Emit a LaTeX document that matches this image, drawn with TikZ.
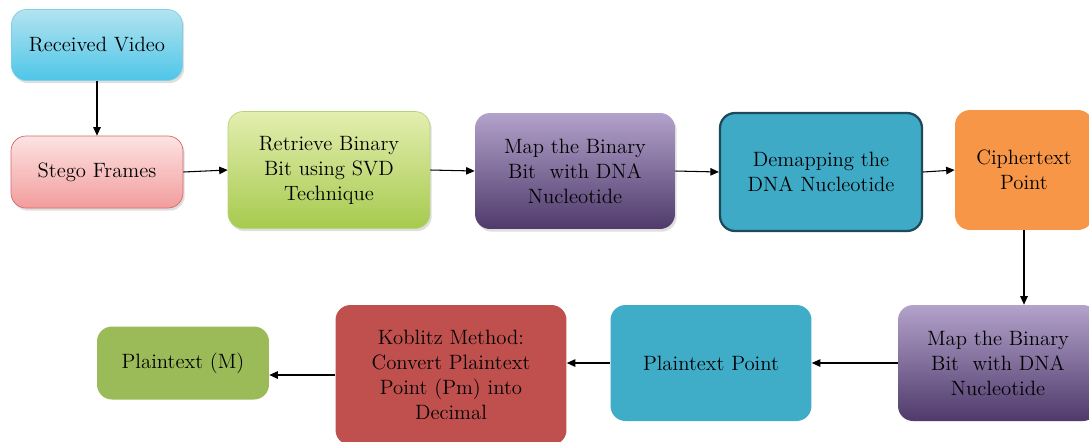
\documentclass[tikz,border=0pt]{standalone}
\usetikzlibrary{arrows.meta,shadows}

\definecolor{rvtop}{HTML}{B3E3F0}
\definecolor{rvbot}{HTML}{4EC6E8}
\definecolor{rvline}{HTML}{7FCFE6}
\definecolor{sftop}{HTML}{FDE3E3}
\definecolor{sfbot}{HTML}{F29C9C}
\definecolor{sfline}{HTML}{D46A6A}
\definecolor{rbtop}{HTML}{E4EEB0}
\definecolor{rbbot}{HTML}{A6CA4E}
\definecolor{rbline}{HTML}{B7D47A}
\definecolor{mptop}{HTML}{B3A2CB}
\definecolor{mpmid}{HTML}{8065A2}
\definecolor{mpbot}{HTML}{4F3A6B}
\definecolor{dmfill}{HTML}{3EAAC6}
\definecolor{dmline}{HTML}{1E4B5A}
\definecolor{ctfill}{HTML}{F79646}
\definecolor{ppfill}{HTML}{3FADC7}
\definecolor{kbfill}{HTML}{C0504D}
\definecolor{pmfill}{HTML}{9BBB59}

\tikzset{
  box/.style={rounded corners=0.3cm, align=center, inner sep=0pt,
    font=\rmfamily\fontsize{11.8}{14.2}\selectfont, text=black},
  softshadow/.style={drop shadow={shadow xshift=1pt, shadow yshift=-1.5pt, opacity=0.25}},
  flow/.style={draw=black, line width=0.6pt, -{Triangle[length=1.7mm,width=1.5mm]}}
}

\begin{document}
\begin{tikzpicture}[x=0.02cm, y=-0.02cm]
\useasboundingbox (0,0) rectangle (1089,441);
\fill[white] (0,0) rectangle (1089,441);

% upper row
\node[box, softshadow, draw=rvline, top color=rvtop, bottom color=rvbot,
  minimum width=3.42cm, minimum height=1.42cm] (rv) at (97,45) {Received Video};
\node[box, softshadow, draw=sfline, top color=sftop, bottom color=sfbot,
  minimum width=3.44cm, minimum height=1.44cm] (sf) at (97,172) {Stego Frames};
\node[box, softshadow, draw=rbline, top color=rbtop, bottom color=rbbot,
  minimum width=4.04cm, minimum height=2.34cm] (rb) at (329,170)
  {Retrieve Binary\\Bit using SVD\\Technique};
\node[box, softshadow, top color=mptop, middle color=mpmid, bottom color=mpbot,
  minimum width=4.0cm, minimum height=2.32cm] (m1) at (575,171)
  {Map the Binary\\Bit\ \ with DNA\\Nucleotide};
\node[box, draw=dmline, line width=1.3pt, fill=dmfill,
  minimum width=4.04cm, minimum height=2.36cm] (dm) at (821,172)
  {Demapping the\\DNA Nucleotide};
\node[box, fill=ctfill, minimum width=2.76cm, minimum height=2.4cm] (ct) at (1024,170)
  {Ciphertext\\Point};

% lower row
\node[box, top color=mptop, middle color=mpmid, bottom color=mpbot,
  minimum width=4.0cm, minimum height=2.32cm] (m2) at (998,363)
  {Map the Binary\\Bit\ \ with DNA\\Nucleotide};
\node[box, fill=ppfill, minimum width=4.02cm, minimum height=2.32cm] (pp) at (711,363)
  {Plaintext Point};
\node[box, fill=kbfill, minimum width=4.62cm, minimum height=2.8cm] (kb) at (451,375)
  {Koblitz Method:\\Convert Plaintext\\Point (Pm) into\\Decimal};
\node[box, fill=pmfill, minimum width=3.44cm, minimum height=1.46cm] (pm) at (183,363)
  {Plaintext (M)};

% connectors
\draw[flow] (rv.south) -- (sf.north);
\draw[flow] (sf.east) -- (rb.west);
\draw[flow] (rb.east) -- (m1.west);
\draw[flow] (m1.east) -- (dm.west);
\draw[flow] (dm.east) -- (ct.west);
\draw[flow] (ct.south) -- (ct.south |- m2.north);
\draw[flow] (m2.west) -- (pp.east);
\draw[flow] (pp.west) -- (kb.east |- pp.west);
\draw[flow] (kb.west) -- (pm.east |- kb.west);
\end{tikzpicture}
\end{document}
